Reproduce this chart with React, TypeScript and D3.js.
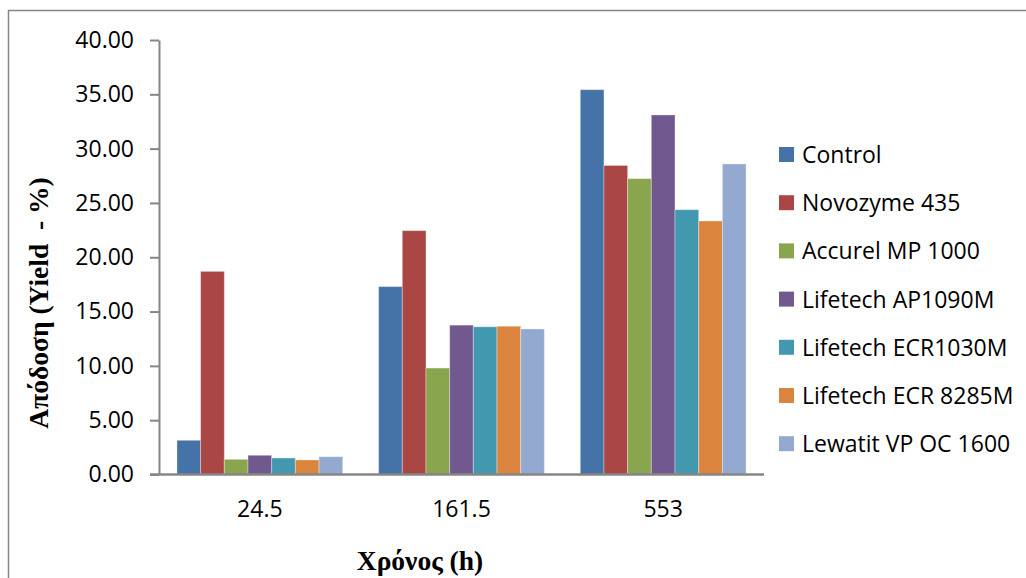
import React, { useEffect, useMemo, useRef } from "react";
import * as d3 from "d3";

const times = ["24.5", "161.5", "553"];
const seriesNames = [
  "Control",
  "Novozyme 435",
  "Accurel MP 1000",
  "Lifetech AP1090M",
  "Lifetech ECR1030M",
  "Lifetech ECR 8285M",
  "Lewatit VP OC 1600",
];
const seriesColors = ["#4572A7", "#AA4643", "#89A54E", "#71588F", "#4198AF", "#DB843D", "#93A9CF"];
// one array per time point, same order as seriesNames
const yield245 = [3.15, 18.7, 1.4, 1.77, 1.52, 1.34, 1.64];
const yield1615 = [17.3, 22.45, 9.8, 13.75, 13.6, 13.65, 13.4];
const yield553 = [35.43, 28.45, 27.24, 33.1, 24.38, 23.34, 28.59];
const yTicks = [0, 5, 10, 15, 20, 25, 30, 35, 40];

const W = 1026;
const H = 578;
const PLOT = { left: 159, right: 764, top: 40, bottom: 474.5 };
const AXIS_COLOR = "#868686";
const LABEL_FONT = "'Open Sans', 'Liberation Sans', sans-serif";
const TITLE_FONT = "'Liberation Serif', 'DejaVu Serif', serif";

export default function App() {
  const yAxisRef = useRef(null);
  const xAxisRef = useRef(null);

  const values = [yield245, yield1615, yield553];

  const x0 = useMemo(
    () =>
      d3.scaleBand().domain(times).range([PLOT.left, PLOT.right]).paddingInner(0.178).paddingOuter(0.089),
    []
  );
  const x1 = useMemo(
    () => d3.scaleBand().domain(seriesNames).range([0, x0.bandwidth()]),
    [x0]
  );
  const y = useMemo(
    () => d3.scaleLinear().domain([0, 40]).range([PLOT.bottom, PLOT.top]),
    []
  );

  useEffect(() => {
    const g = d3.select(yAxisRef.current);
    g.selectAll("*").remove();
    g.call(
      d3.axisLeft(y).tickValues(yTicks).tickFormat(d3.format(".2f")).tickSize(9).tickSizeOuter(0).tickPadding(16)
    );
    g.select(".domain").attr("stroke", AXIS_COLOR).attr("stroke-width", 2);
    g.selectAll(".tick line").attr("stroke", AXIS_COLOR).attr("stroke-width", 2);
    g.selectAll(".tick text")
      .attr("font-family", LABEL_FONT)
      .attr("font-size", 23)
      .attr("fill", "#000");

    const gx = d3.select(xAxisRef.current);
    gx.selectAll("*").remove();
    gx.call(d3.axisBottom(x0).tickSize(0).tickSizeOuter(0).tickPadding(26));
    gx.select(".domain").remove();
    gx.selectAll(".tick text")
      .attr("font-family", LABEL_FONT)
      .attr("font-size", 23)
      .attr("fill", "#000");
  }, [x0, y]);

  return (
    <svg width={W} height={H} style={{ position: "absolute", left: 0, top: 0, background: "#fff" }}>
      <rect x={8.5} y={10.5} width={1040} height={600} fill="#fff" stroke={AXIS_COLOR} strokeWidth={1.5} />

      {times.map((t, i) => (
        <g key={t} transform={`translate(${x0(t)},0)`}>
          {seriesNames.map((s, j) => (
            <rect
              key={s}
              x={x1(s)}
              y={y(values[i][j])}
              width={x1.bandwidth()}
              height={y(0) - y(values[i][j])}
              fill={seriesColors[j]}
              stroke="#ffffff"
              strokeOpacity={0.35}
              strokeWidth={1}
            />
          ))}
        </g>
      ))}

      <g ref={yAxisRef} transform={`translate(${PLOT.left},0)`} />
      <line x1={150} x2={PLOT.right} y1={PLOT.bottom} y2={PLOT.bottom} stroke={AXIS_COLOR} strokeWidth={2.5} />
      <g ref={xAxisRef} transform={`translate(0,${PLOT.bottom})`} />

      {seriesNames.map((s, j) => (
        <g key={s} transform={`translate(779,${155 + j * 48.2})`}>
          <rect x={0} y={-8} width={15} height={15} fill={seriesColors[j]} />
          <text x={23} y={0} dy="0.35em" fontFamily={LABEL_FONT} fontSize={23} fill="#000">
            {s}
          </text>
        </g>
      ))}

      <text
        x={420}
        y={570}
        textAnchor="middle"
        fontFamily={TITLE_FONT}
        fontWeight="bold"
        fontSize={27.5}
        fill="#000"
      >
        Χρόνος (h)
      </text>
      <text
        transform="translate(38,303) rotate(-90)"
        textAnchor="middle"
        dy="0.35em"
        fontFamily={TITLE_FONT}
        fontWeight="bold"
        fontSize={27.5}
        fill="#000"
        style={{ whiteSpace: "pre" }}
      >
        Απόδοση (Yield  - %)
      </text>
    </svg>
  );
}
